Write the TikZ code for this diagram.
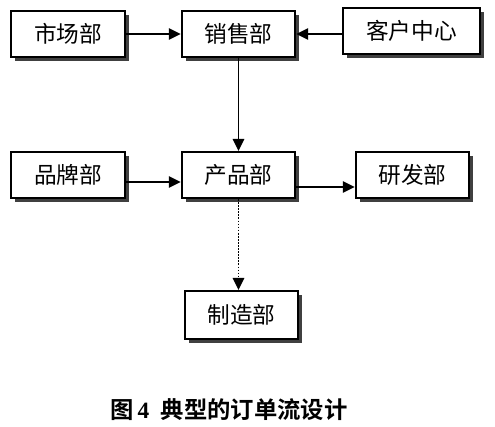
\documentclass[tikz,border=0pt]{standalone}
\usepackage{fontspec}
\setmainfont{Liberation Serif}
\newfontfamily\cjk{Noto Sans CJK SC}
\newfontfamily\cjkb{Noto Sans CJK SC Bold}
\usetikzlibrary{arrows.meta,shadows}
\begin{document}
\begin{tikzpicture}[x=0.75pt,y=-0.75pt,
  dept/.style={draw=black,line width=1.6pt,fill=white,minimum height=34.5pt,inner sep=0pt,
    font=\cjk\fontsize{17}{20}\selectfont,
    drop shadow={shadow xshift=3.2pt,shadow yshift=-3.2pt,fill=black!75,opacity=1}},
  arr/.style={line width=1.3pt,-{Triangle[length=9pt,width=8.5pt]}},
  darr/.style={line width=1.3pt,densely dotted,-{Triangle[length=9pt,width=8.5pt]}}]
\useasboundingbox[fill=white] (0,0) rectangle (495,426);
\node[dept,minimum width=85.5pt] (sc) at (68,34) {市场部};
\node[dept,minimum width=85pt] (xs) at (238.5,34) {销售部};
\node[dept,minimum width=103pt] (kh) at (411.5,31) {客户中心};
\node[dept,minimum width=85.5pt] (pp) at (68,175) {品牌部};
\node[dept,minimum width=85pt] (cp) at (238.5,175) {产品部};
\node[dept,minimum width=85pt] (yf) at (412.5,175) {研发部};
\node[dept,minimum width=85pt,minimum height=36pt] (zz) at (241.5,315) {制造部};
\draw[arr] (sc.east) -- (xs.west);
\draw[arr] (kh.west |- xs.east) -- (xs.east);
\draw[arr] (xs.south) -- (cp.north);
\draw[arr] ([yshift=-5.25pt]pp.east) -- ([yshift=-5.25pt]cp.west);
\draw[arr] ([yshift=-9pt]cp.east) -- ([yshift=-9pt]yf.west);
\draw[darr] (cp.south) -- (zz.north -| cp.south);
\node[font=\fontsize{17.5}{20}\selectfont] (cap) at (229,410) {{\cjkb 图}\,\textbf{4}\ \ {\cjkb 典型的订单流设计}};
\end{tikzpicture}
\end{document}
